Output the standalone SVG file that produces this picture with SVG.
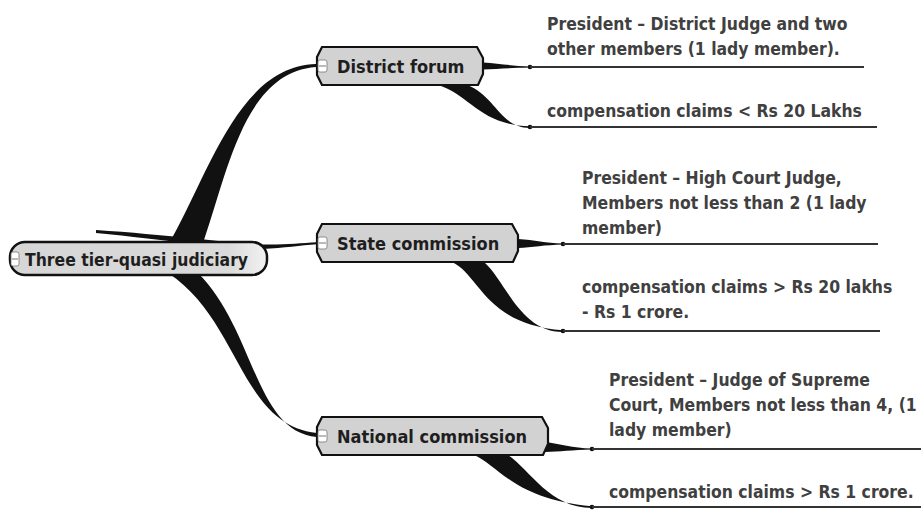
<svg xmlns="http://www.w3.org/2000/svg" width="921" height="512" viewBox="0 0 921 512">
<defs>
<style>
.t{font-family:"DejaVu Sans Condensed","DejaVu Sans",sans-serif;font-weight:bold;font-stretch:condensed}
.nl{font-size:18px;fill:#1e1e1e}
.rl{font-size:17.4px;fill:#1e1e1e}
.ll{font-size:17.4px;fill:#404040}
.box{fill:#d2d2d2;stroke:#111;stroke-width:2.2}
.ul{stroke:#333;stroke-width:1.8;fill:none}
.br{fill:#111;stroke:none}
.mk{fill:#fff;stroke:#777;stroke-width:0.8}
.mkl{stroke:#777;stroke-width:1}
</style>
<linearGradient id="pill" x1="0" y1="0" x2="1" y2="0">
<stop offset="0" stop-color="#d6d6d6"/>
<stop offset="0.85" stop-color="#dadada"/>
<stop offset="1" stop-color="#f2f2f2"/>
</linearGradient>
</defs>
<rect width="921" height="512" fill="#fff"/>
<g id="connectors">
<path class="br" d="M172,238 C210,170 240,66 316,64 L316,67 C245,72 228,170 204,240 Z"/>
<path class="br" d="M168,273 C240,320 240,425 317,433 L317,437 C255,432 255,330 198,273 Z"/>
<path class="br" d="M96,230 C170,235 230,243 262,244.5 C285,245 300,243 317,242.2 L317,244.3 C300,245.5 285,248 262,249 C220,249 170,240 96,233 Z"/>
<path class="br" d="M483,62.5 C500,63.5 512,66 530,66.4 L530,67.6 C512,68 497,69 483,69.5 Z"/>
<path class="br" d="M438,85 C470,95 480,125 530,126.3 L530,128 C500,128 495,95 467,85 Z"/>
<path class="br" d="M518,239 C535,240 545,243.2 563,243.4 L563,244.6 C545,245 532,247.5 518,248 Z"/>
<path class="br" d="M452,262 C480,275 485,325 563,330.2 L563,332 C520,332 505,280 484,262 Z"/>
<path class="br" d="M545,442 C560,444 572,448.2 592,448.4 L592,449.6 C572,450 560,452 545,452 Z"/>
<path class="br" d="M474,455 C498,465 515,500 592,506.3 L592,508 C550,508 530,470 508,455 Z"/>
<circle class="br" cx="530" cy="67" r="2.3"/>
<circle class="br" cx="530" cy="127" r="2.3"/>
<circle class="br" cx="563" cy="244" r="2.3"/>
<circle class="br" cx="563" cy="331" r="2.3"/>
<circle class="br" cx="592" cy="449" r="2.3"/>
<circle class="br" cx="592" cy="507" r="2.3"/>
</g>
<g id="root">
<rect x="10" y="242" width="257" height="33" rx="15" fill="url(#pill)" stroke="#111" stroke-width="2.5"/>
<rect class="mk" x="11" y="252" width="8" height="14" rx="2"/>
<line class="mkl" x1="12" y1="259" x2="18" y2="259"/>
<text class="t rl" x="25" y="266">Three tier-quasi judiciary</text>
</g>
<g id="district-forum">
<path class="box" d="M322,47 L477,47 L483,58 L483,74 L478,85 L322,85 L317,75 L317,57 Z"/>
<rect class="mk" x="318" y="60" width="9" height="12" rx="2"/>
<line class="mkl" x1="319" y1="66" x2="326" y2="66"/>
<text class="t nl" x="337" y="73">District forum</text>
</g>
<g id="state-commission">
<path class="box" d="M322,224 L512,224 L518,235 L518,251 L513,262 L322,262 L317,252 L317,234 Z"/>
<rect class="mk" x="318" y="237" width="9" height="12" rx="2"/>
<line class="mkl" x1="319" y1="243" x2="326" y2="243"/>
<text class="t nl" x="337" y="250">State commission</text>
</g>
<g id="national-commission">
<path class="box" d="M322,417 L542,417 L548,428 L548,444 L543,455 L322,455 L317,445 L317,427 Z"/>
<rect class="mk" x="318" y="430" width="9" height="12" rx="2"/>
<line class="mkl" x1="319" y1="436" x2="326" y2="436"/>
<text class="t nl" x="337" y="443">National commission</text>
</g>
<g id="leaf-district-president">
<text class="t ll" x="547" y="30">President – District Judge and two</text>
<text class="t ll" x="547" y="55">other members (1 lady member).</text>
<line class="ul" x1="530" y1="67" x2="864" y2="67"/>
</g>
<g id="leaf-district-claims">
<text class="t ll" x="547" y="117">compensation claims &lt; Rs 20 Lakhs</text>
<line class="ul" x1="530" y1="127" x2="877" y2="127"/>
</g>
<g id="leaf-state-president">
<text class="t ll" x="582" y="184">President – High Court Judge,</text>
<text class="t ll" x="582" y="209">Members not less than 2 (1 lady</text>
<text class="t ll" x="582" y="234">member)</text>
<line class="ul" x1="563" y1="244" x2="878" y2="244"/>
</g>
<g id="leaf-state-claims">
<text class="t ll" x="582" y="293">compensation claims &gt; Rs 20 lakhs</text>
<text class="t ll" x="582" y="318">- Rs 1 crore.</text>
<line class="ul" x1="563" y1="331" x2="880" y2="331"/>
</g>
<g id="leaf-national-president">
<text class="t ll" x="609" y="386">President – Judge of Supreme</text>
<text class="t ll" x="609" y="411">Court, Members not less than 4, (1</text>
<text class="t ll" x="609" y="436">lady member)</text>
<line class="ul" x1="592" y1="449" x2="921" y2="449"/>
</g>
<g id="leaf-national-claims">
<text class="t ll" x="609" y="498">compensation claims &gt; Rs 1 crore.</text>
<line class="ul" x1="592" y1="507" x2="921" y2="507"/>
</g>
</svg>
